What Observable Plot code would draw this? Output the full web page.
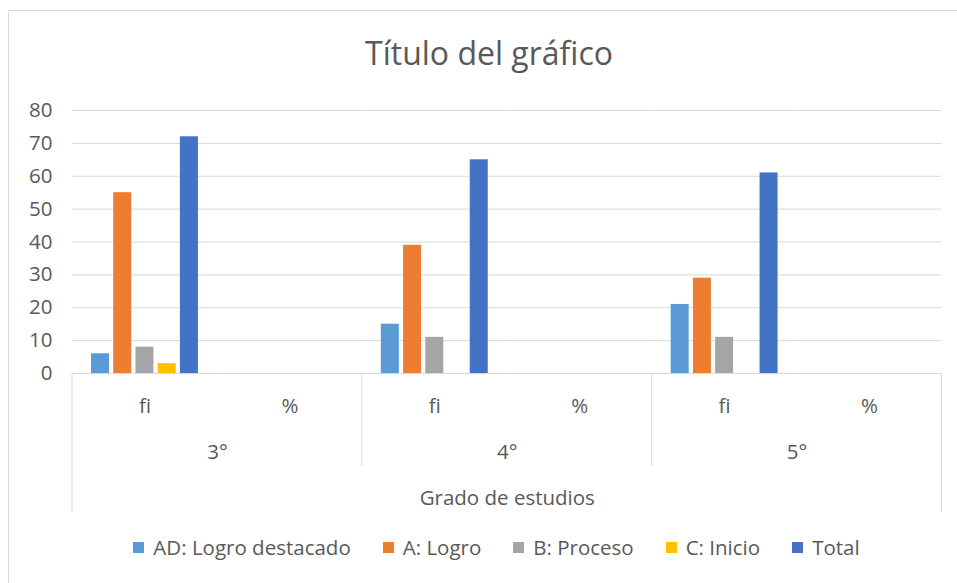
<!DOCTYPE html>
<html><head><meta charset="utf-8">
<script src="https://cdn.jsdelivr.net/npm/d3@7"></script>
<script src="https://cdn.jsdelivr.net/npm/@observablehq/plot@0.6"></script>
<style>
html,body{margin:0;padding:0;background:#fff;overflow:hidden}
#chart{position:relative;width:957px;height:583px;font-family:"Open Sans",sans-serif;color:#595959;overflow:hidden}
#border{position:absolute;left:8px;top:10px;width:1100px;height:700px;border-left:1px solid #d9d9d9;border-top:1px solid #d9d9d9}
#title{position:absolute;left:0;top:37px;width:978px;text-align:center;font-size:32px;line-height:32px;white-space:nowrap}
#plot{position:absolute;left:0;top:95px}
#legend{position:absolute;left:0;top:537px;width:993px;display:flex;justify-content:center;gap:32px;font-size:20.5px;line-height:20.5px;white-space:nowrap}
#legend .item{display:flex;align-items:center;gap:9px}
#legend .sw{width:11px;height:11px;display:inline-block}
</style></head>
<body>
<div id="chart">
  <div id="border"></div>
  <div id="title"></div>
  <div id="plot"></div>
  <div id="legend"></div>
</div>
<script>
const titleText = "Título del gráfico";
const axisTitle = "Grado de estudios";
const grades = ["3°", "4°", "5°"];
const subcats = ["fi", "%"];
const series = ["AD: Logro destacado", "A: Logro", "B: Proceso", "C: Inicio", "Total"];
const colors = ["#5B9BD5", "#ED7D31", "#A5A5A5", "#FFC000", "#4472C4"];
const yTicks = [0, 10, 20, 30, 40, 50, 60, 70, 80];
// values for the "fi" column of each grade (the "%" column is empty)
const adValues = [6, 15, 21];
const aValues = [55, 39, 29];
const bValues = [8, 11, 11];
const cValues = [3, 0, 0];
const totalValues = [72, 65, 61];

const valuesBySeries = [adValues, aValues, bValues, cValues, totalValues];
const fxKeys = grades.flatMap(g => subcats.map(s => g + "|" + s));
const rows = [];
grades.forEach((g, gi) => {
  series.forEach((s, si) => {
    rows.push({key: g + "|fi", serie: s, value: valuesBySeries[si][gi]});
  });
});
const gridRows = fxKeys.flatMap(k => yTicks.map(t => ({key: k, tick: t})));

document.getElementById("title").textContent = titleText;

const W = 957, H = 425, MT = 15, MB = 147, ML = 72, MR = 15.5;
const plot = Plot.plot({
  width: W, height: H,
  marginTop: MT, marginBottom: MB, marginLeft: ML, marginRight: MR,
  style: {fontFamily: "'Open Sans', sans-serif", fontSize: "20.5px", color: "#595959", overflow: "visible", background: "transparent"},
  fx: {domain: fxKeys, padding: 0, round: false, axis: null, label: null},
  x: {domain: series, paddingInner: 0.19, paddingOuter: 0.855, round: false, axis: null},
  y: {domain: [0, 80], axis: null, label: null},
  color: {domain: series, range: colors},
  marks: [
    Plot.ruleY(gridRows, {fx: "key", y: "tick", stroke: "#d9d9d9", strokeWidth: 1}),
    Plot.axisY(yTicks, {facetAnchor: "left", tickSize: 0, tickPadding: 20, label: null, fill: "#595959"}),
    Plot.axisFx({anchor: "bottom", tickSize: 0, tickPadding: 25, tickFormat: d => d.split("|")[1], label: null, fill: "#595959"}),
    Plot.barY(rows, {fx: "key", x: "serie", y: "value", fill: "serie"}),
    Plot.text(grades, {fx: d => d + "|fi", text: d => d, frameAnchor: "bottom-right", textAnchor: "middle", dy: 85.5, fill: "#595959"}),
    Plot.text([axisTitle], {fx: () => "4°|fi", text: d => d, frameAnchor: "bottom-right", textAnchor: "middle", dy: 131, fill: "#595959"})
  ]
});
document.getElementById("plot").appendChild(plot);

// hierarchical category separators, placed through the fx scale
const fx = plot.scale("fx");
const bw = fx.bandwidth;
const yb = H - MB;
const sep = d3.select(plot).append("g").attr("stroke", "#d9d9d9").attr("stroke-width", 1);
const seps = [
  {x: fx.apply("3°|fi"), len: 139},
  {x: fx.apply("4°|fi"), len: 93},
  {x: fx.apply("5°|fi"), len: 93},
  {x: fx.apply("5°|%") + bw, len: 139}
];
sep.selectAll("line").data(seps).join("line")
  .attr("x1", d => d.x).attr("x2", d => d.x)
  .attr("y1", yb).attr("y2", d => yb + d.len);

// legend below the chart
const color = plot.scale("color");
const lg = d3.select("#legend").selectAll(".item").data(series).join("div").attr("class", "item");
lg.append("span").attr("class", "sw").style("background", d => color.apply(d));
lg.append("span").text(d => d);
</script>
</body></html>
